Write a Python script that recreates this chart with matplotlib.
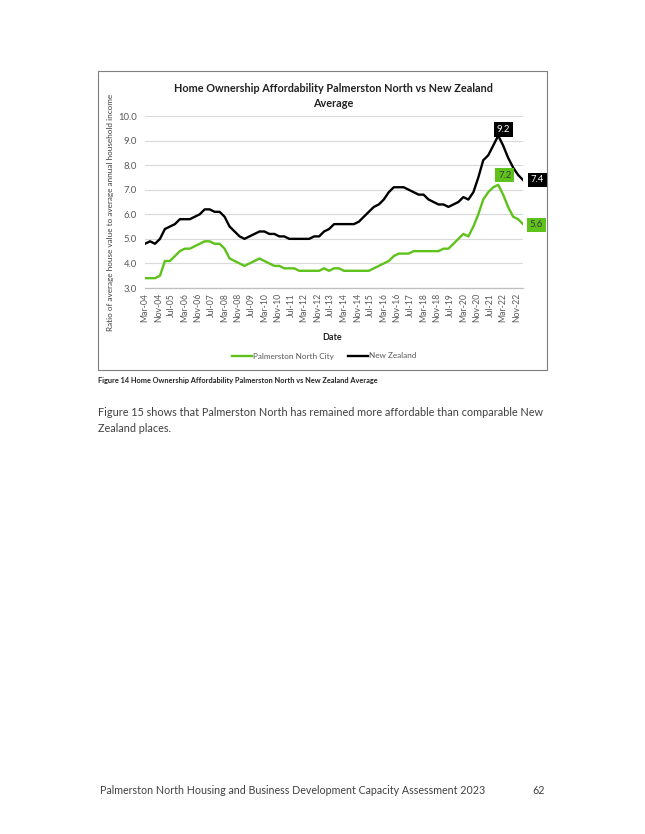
import numpy as np
import pandas as pd
import matplotlib
matplotlib.use("Agg")
import matplotlib.pyplot as plt
import matplotlib.dates as mdates
from matplotlib.patches import Rectangle
from matplotlib.lines import Line2D

plt.rcParams['font.family'] = ['Lato', 'DejaVu Sans']

# quarterly series, Mar-04 .. Mar-23
quarters = pd.date_range("2004-03-01", periods=77, freq="3MS")
palmerston = [3.4, 3.4, 3.4, 3.5, 4.1, 4.1, 4.3, 4.5, 4.6, 4.6,
              4.7, 4.8, 4.9, 4.9, 4.8, 4.8, 4.6, 4.2, 4.1, 4.0,
              3.9, 4.0, 4.1, 4.2, 4.1, 4.0, 3.9, 3.9, 3.8, 3.8,
              3.8, 3.7, 3.7, 3.7, 3.7, 3.7, 3.8, 3.7, 3.8, 3.8,
              3.7, 3.7, 3.7, 3.7, 3.7, 3.7, 3.8, 3.9, 4.0, 4.1,
              4.3, 4.4, 4.4, 4.4, 4.5, 4.5, 4.5, 4.5, 4.5, 4.5,
              4.6, 4.6, 4.8, 5.0, 5.2, 5.1, 5.5, 6.0, 6.6, 6.9,
              7.1, 7.2, 6.8, 6.3, 5.9, 5.8, 5.6]
new_zealand = [4.8, 4.9, 4.8, 5.0, 5.4, 5.5, 5.6, 5.8, 5.8, 5.8,
               5.9, 6.0, 6.2, 6.2, 6.1, 6.1, 5.9, 5.5, 5.3, 5.1,
               5.0, 5.1, 5.2, 5.3, 5.3, 5.2, 5.2, 5.1, 5.1, 5.0,
               5.0, 5.0, 5.0, 5.0, 5.1, 5.1, 5.3, 5.4, 5.6, 5.6,
               5.6, 5.6, 5.6, 5.7, 5.9, 6.1, 6.3, 6.4, 6.6, 6.9,
               7.1, 7.1, 7.1, 7.0, 6.9, 6.8, 6.8, 6.6, 6.5, 6.4,
               6.4, 6.3, 6.4, 6.5, 6.7, 6.6, 6.9, 7.5, 8.2, 8.4,
               8.8, 9.2, 8.8, 8.3, 7.9, 7.6, 7.4]
tick_dates = pd.date_range("2004-03-01", "2022-11-01", freq="8MS")
y_ticks = [3.0, 4.0, 5.0, 6.0, 7.0, 8.0, 9.0, 10.0]

green = '#5ec21b'
grey_txt = '#595959'

W, H = 645, 834
fig = plt.figure(figsize=(W / 100, H / 100), dpi=100)

def fx(x):
    return x / W

def fy(y):
    return 1 - y / H

ax = fig.add_axes([fx(145), fy(288), (523 - 145) / W, (288 - 116) / H])
ax.plot(quarters, palmerston, color=green, lw=1.7, solid_joinstyle='round')
ax.plot(quarters, new_zealand, color='black', lw=1.7, solid_joinstyle='round')

ax.set_xlim(quarters[0], quarters[-1])
ax.set_ylim(3, 10)
ax.set_yticks(y_ticks)
ax.set_yticklabels([f"{v:.1f}" for v in y_ticks], fontsize=6.8, color=grey_txt)
ax.set_xticks(tick_dates)
ax.set_xticklabels([d.strftime("%b-%y") for d in tick_dates], rotation=90,
                   fontsize=6.2, color=grey_txt)
ax.tick_params(length=0)
ax.tick_params(axis='y', pad=6)
ax.tick_params(axis='x', pad=3.5)
ax.grid(axis='y', color='#d9d9d9', lw=0.8)
ax.set_axisbelow(True)
for s in ['top', 'right', 'left']:
    ax.spines[s].set_visible(False)
ax.spines['bottom'].set_color('#bfbfbf')
ax.spines['bottom'].set_linewidth(0.9)

# data labels
def label(i, series, dx, dy, bg, fg):
    ax.annotate(f"{series[i]:.1f}", (quarters[i], series[i]), xytext=(dx, dy),
                textcoords='offset points', ha='center', va='center',
                fontsize=6.8, color=fg, annotation_clip=False,
                bbox=dict(boxstyle='square,pad=0.3', fc=bg, ec='none'))

label(71, new_zealand, 3.6, 4.6, 'black', 'white')
label(71, palmerston, 4.7, 7.0, green, '#3a3a3a')
label(76, new_zealand, 10.4, 0, 'black', 'white')
label(76, palmerston, 9.7, -0.6, green, '#3a3a3a')

fig.text(fx(333), fy(96), "Home Ownership Affordability Palmerston North vs New Zealand\nAverage",
         ha='center', va='center', fontsize=7.8, weight='bold', color='#222222',
         linespacing=1.45)
fig.text(fx(110), fy(212), "Ratio of average house value to average annual household income",
         rotation=90, ha='center', va='center', fontsize=5.9, color='#404040')
fig.text(fx(332), fy(338), "Date", ha='center', va='center', fontsize=6.5,
         weight='bold', color='#222222')

handles = [Line2D([], [], color=green, lw=1.7), Line2D([], [], color='black', lw=1.7)]
fig.legend(handles, ["Palmerston North City", "New Zealand"], loc='center',
           bbox_to_anchor=(fx(324), fy(356)), ncol=2, frameon=False, fontsize=5.9,
           handlelength=2.45, handletextpad=0.1, columnspacing=1.7, labelcolor=grey_txt)

fig.patches.append(Rectangle((fx(98), fy(370)), (547 - 98) / W, (370 - 71) / H,
                             transform=fig.transFigure, fill=False,
                             edgecolor='#7f7f7f', lw=0.8))

fig.text(fx(98), fy(380), "Figure 14 Home Ownership Affordability Palmerston North vs New Zealand Average",
         fontsize=5.3, weight='bold', va='center', color='#222222')
fig.text(fx(98), fy(412), "Figure 15 shows that Palmerston North has remained more affordable than comparable New",
         fontsize=7.8, va='center', color='#404040')
fig.text(fx(98), fy(428), "Zealand places.", fontsize=7.8, va='center', color='#404040')
fig.text(fx(100), fy(791), "Palmerston North Housing and Business Development Capacity Assessment 2023",
         fontsize=7.7, va='center', color='#404040')
fig.text(fx(545), fy(791), "62", fontsize=7.7, va='center', ha='right', color='#404040')

fig.savefig("out.png", dpi=100)
